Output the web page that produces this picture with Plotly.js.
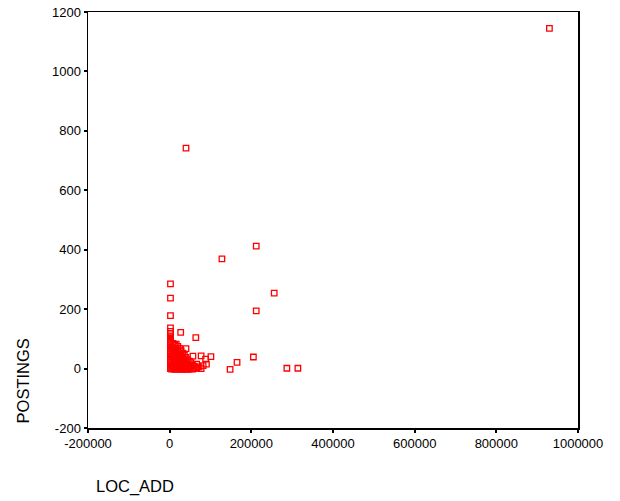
<!DOCTYPE html>
<html>
<head>
<meta charset="utf-8">
<script src="https://cdn.plot.ly/plotly-3.0.1.min.js"></script>
<style>html,body{margin:0;padding:0;background:#fff;}#chart{width:620px;height:501px;}</style>
</head>
<body>
<div id="chart"></div>
<script>
// LOC_ADD values (x)
const locAdd = [
  930000, 40000, 212000, 128000, 256000, 212000, 205000, 165000, 148000, 287000, 314000,
  2000, 2000, 2000, 2000, 2000, 2000, 2000, 2000, 2000, 2000, 2000, 2000, 2000, 2000, 2000, 2000, 2000, 2000, 2000, 2000, 2000, 2000,
  8000, 8000, 8000, 8000, 8000, 8000, 8000,
  12000, 12000, 12000, 12000, 12000, 12000,
  16000, 16000, 16000, 16000, 16000, 16000, 16000,
  20000, 20000, 20000, 20000, 20000, 20000,
  24000, 24000, 24000, 24000, 24000,
  27000,
  28000, 28000, 28000, 28000, 28000,
  32000, 32000, 32000, 32000,
  36000, 36000, 36000, 36000,
  40000, 40000, 40000, 40000, 40000,
  44000, 44000, 44000,
  48000, 48000, 48000,
  52000, 52000,
  57000, 56000, 56000,
  60000, 60000,
  64000,
  66000, 66000,
  72000,
  77000, 77000,
  82000,
  88000,
  90000,
  101000,
  5000, 10000, 14000, 18000, 22000, 26000, 30000, 34000, 38000, 42000, 46000, 50000
];
// POSTINGS values (y)
const postings = [
  1145, 742, 412, 369, 254, 194, 39, 21, -3, 1, 1,
  285, 237, 178, 137, 125, 118, 110, 102, 95, 88, 80, 72, 65, 58, 50, 42, 35, 28, 20, 12, 5, 0,
  85, 70, 55, 40, 25, 10, 2,
  78, 60, 45, 30, 15, 3,
  82, 65, 50, 35, 20, 8, 0,
  75, 58, 40, 25, 12, 1,
  68, 50, 32, 18, 5,
  122,
  60, 42, 28, 10, 0,
  52, 35, 20, 6,
  45, 30, 15, 2,
  67, 38, 22, 8, 0,
  30, 14, 3,
  25, 10, 0,
  20, 5,
  42, 12, -2,
  8, 0,
  104,
  15, 2,
  6,
  43, 0,
  10,
  32,
  15,
  40,
  -2, -1, -3, 1, -2, -1, -3, -2, -1, -3, -2, -1
];
const xTickVals = [-200000, 0, 200000, 400000, 600000, 800000, 1000000];
const xTickText = ["-200000", "0", "200000", "400000", "600000", "800000", "1000000"];
const yTickVals = [-200, 0, 200, 400, 600, 800, 1000, 1200];
const yTickText = ["-200", "0", "200", "400", "600", "800", "1000", "1200"];

const FONT = 'Liberation Sans, Arial, sans-serif';

const trace = {
  type: 'scatter',
  mode: 'markers',
  x: locAdd,
  y: postings,
  marker: {symbol: 'square-open', size: 5.5, color: '#ff0000', line: {width: 1.3, color: '#ff0000'}},
  hoverinfo: 'none'
};

const axisCommon = {
  showgrid: false,
  zeroline: false,
  showline: true,
  linecolor: '#000',
  linewidth: 1.5,
  mirror: true,
  ticks: 'outside',
  ticklen: 3,
  tickwidth: 2,
  tickcolor: '#000',
  tickfont: {family: FONT, size: 13, color: '#000'}
};

const layout = {
  width: 620,
  height: 501,
  margin: {l: 88, r: 42, t: 12, b: 73, pad: 0},
  paper_bgcolor: '#fff',
  plot_bgcolor: '#fff',
  showlegend: false,
  xaxis: Object.assign({}, axisCommon, {range: [-200000, 1000000], tickmode: 'array', tickvals: xTickVals, ticktext: xTickText}),
  yaxis: Object.assign({}, axisCommon, {range: [-200, 1200], tickmode: 'array', tickvals: yTickVals, ticktext: yTickText}),
  annotations: [
    {text: 'LOC_ADD', xref: 'paper', yref: 'paper', x: 0, y: 0, xanchor: 'left', yanchor: 'middle',
     xshift: 6, yshift: -58, showarrow: false,
     font: {family: FONT, size: 16.5, color: '#000'}},
    {text: 'POSTINGS', xref: 'paper', yref: 'paper', x: 0, y: 0.112, xanchor: 'center', yanchor: 'middle',
     xshift: -65, textangle: -90, showarrow: false,
     font: {family: FONT, size: 16.5, color: '#000'}}
  ]
};

Plotly.newPlot('chart', [trace], layout, {staticPlot: true, displayModeBar: false});
</script>
</body>
</html>
